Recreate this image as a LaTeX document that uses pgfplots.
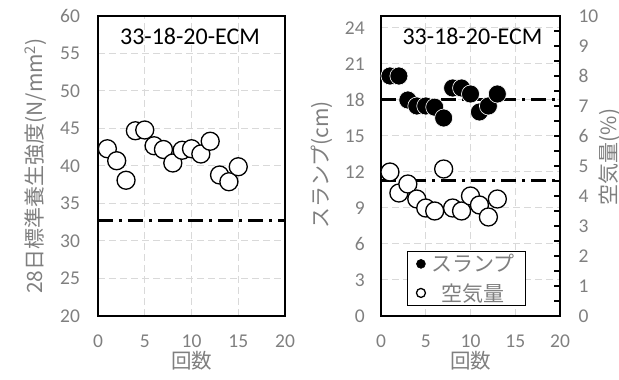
\documentclass[border=0pt]{standalone}
\usepackage{fontspec}
\setmainfont{Carlito}
\newfontfamily\jp{Noto Sans CJK JP}
\usepackage{pgfplots}
\pgfplotsset{compat=1.18}
\definecolor{lbl}{HTML}{7F7F7F}
\definecolor{grd}{HTML}{D9D9D9}
\pgfplotsset{
  base/.style={
    scale only axis, height=300pt, anchor=south west,
    xmin=0, xmax=20, xtick={0,5,...,20},
    axis line style={black, line width=1.8pt},
    grid=major,
    major grid style={grd, line width=1pt, dash pattern=on 7pt off 4pt},
    /pgf/number format/assume math mode=true,
    tick label style={text=lbl, font=\fontsize{19.5}{20}\selectfont},
    major tick length=0pt,
    xticklabel style={yshift=-15pt},
    every axis x label/.style={at={(axis description cs:0.5,-0.148)}, anchor=center, inner sep=0pt, text=lbl, font=\jp\fontsize{20.5}{21}\selectfont},
    xlabel={回数},
    clip=false,
  },
  ddline/.style={black, line width=3pt, dash pattern=on 15pt off 6pt on 3pt off 6pt},
  openmk/.style={only marks, mark=*, mark size=9pt, mark options={fill=white, draw=black, line width=1.3pt}},
  fullmk/.style={only marks, mark=*, mark size=9pt, mark options={fill=black, draw=white, line width=0.6pt}},
}
\begin{document}
\begin{tikzpicture}
\useasboundingbox (0,0) rectangle (619pt,380pt);
% ---------------- left chart ----------------
\begin{axis}[base, width=187pt, at={(98pt,64pt)},
  ymin=20, ymax=60, ytick={20,25,...,60},
  yticklabel style={xshift=-14.5pt},
  every axis y label/.style={at={(axis description cs:-0.332,0.5)}, rotate=90, anchor=center, text=lbl, font=\jp\fontsize{21}{22}\selectfont},
  ylabel={28日標準養生強度(N/mm\textsuperscript{2})},
]
\addplot[ddline] coordinates {(0,32.7) (20,32.7)};
\addplot[openmk] coordinates {
 (1,42.3) (2,40.7) (3,38.1) (4,44.7) (5,44.8) (6,42.7) (7,42.2) (8,40.4)
 (9,42.1) (10,42.3) (11,41.6) (12,43.3) (13,38.8) (14,37.9) (15,39.9)};
\node[font=\fontsize{24}{24}\selectfont, anchor=center] at (axis description cs:0.492,0.933) {33-18-20-ECM};
\end{axis}
% ---------------- right chart: slump ----------------
\begin{axis}[base, width=179pt, at={(381pt,64pt)},
  ymin=0, ymax=25, ytick={0,3,...,24},
  yticklabel style={xshift=-12.8pt},
  every axis y label/.style={at={(axis description cs:-0.33,0.503)}, rotate=90, anchor=center, text=lbl, font=\jp\fontsize{21}{22}\selectfont},
  ylabel={スランプ(cm)},
]
\addplot[ddline] coordinates {(0,18) (20,18)};
\addplot[fullmk] coordinates {
 (1,20) (2,20) (3,18) (4,17.5) (5,17.5) (6,17.4) (7,16.5) (8,19) (9,19)
 (10,18.5) (11,17) (12,17.5) (13,18.5)};
\node[font=\fontsize{24}{24}\selectfont, anchor=center] at (axis description cs:0.511,0.933) {33-18-20-ECM};
\end{axis}
% ---------------- right chart: air ----------------
\begin{axis}[scale only axis, height=300pt, width=179pt, at={(381pt,64pt)}, anchor=south west,
  xmin=0, xmax=20, ymin=0, ymax=10,
  axis x line=none, axis y line*=right,
  ytick={0,1,...,10}, minor y tick num=1,
  tick align=inside, major tick length=6pt, minor tick length=6pt,
  tick style={black, line width=1.5pt},
  axis line style={black, line width=1.8pt},
  /pgf/number format/assume math mode=true,
  tick label style={text=lbl, font=\fontsize{19.5}{20}\selectfont},
  yticklabel style={xshift=15pt},
  every axis y label/.style={at={(axis description cs:1.279,0.53)}, rotate=90, anchor=center, text=lbl, font=\jp\fontsize{21}{22}\selectfont},
  ylabel={空気量(\%)},
  clip=false,
  legend style={at={(axis description cs:0.145,0.217)}, anchor=north west,
    draw=black, line width=1pt, fill=white, text=lbl,
    font=\jp\fontsize{21}{22}\selectfont,
    inner xsep=9pt, inner ysep=2pt, row sep=8pt,
    nodes={inner ysep=1pt},
    /tikz/every odd column/.style={column sep=4pt}},
  legend image code/.code={\draw[mark repeat=1,#1] plot coordinates {(0pt,0pt)};},
  legend image post style={mark size=4.5pt},
]
\addlegendimage{only marks, mark=*, mark options={fill=black, draw=black, line width=0.5pt}}
\addlegendentry{スランプ}
\addplot[openmk] coordinates {
 (1,4.8) (2,4.1) (3,4.4) (4,3.9) (5,3.6) (6,3.5) (7,4.9) (8,3.6) (9,3.5)
 (10,4.0) (11,3.7) (12,3.3) (13,3.9)};
\addlegendentry{空気量}
\addplot[ddline, forget plot] coordinates {(0,4.5) (20,4.5)};
\end{axis}
\end{tikzpicture}
\end{document}
